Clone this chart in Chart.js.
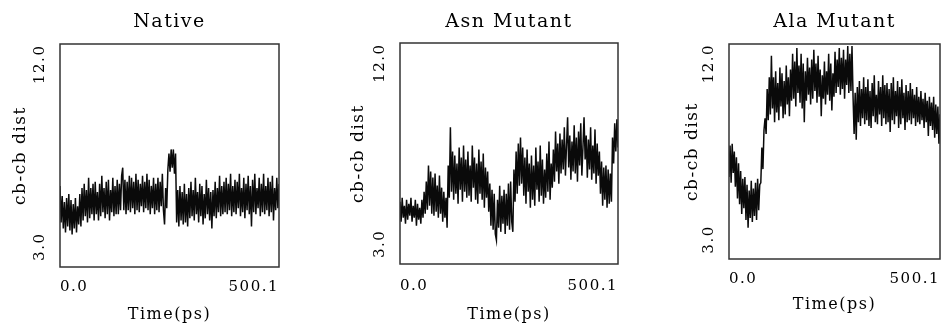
<!DOCTYPE html>
<html>
<head>
<meta charset="utf-8">
<script src="https://cdn.jsdelivr.net/npm/chart.js@4"></script>
<style>
  body { margin: 0; background: #fff; width: 943px; height: 326px; position: relative; overflow: hidden; }
  canvas { position: absolute; top: 0; }
</style>
</head>
<body>
<canvas id="native" width="300" height="326" style="left:0px"></canvas>
<canvas id="asn" width="300" height="326" style="left:340px"></canvas>
<canvas id="ala" width="274" height="326" style="left:669px"></canvas>
<script>
// cb-cb distance traces (one value every ~2.5 ps)
var nativeDist = [
  6.0, 4.2, 5.5, 3.9, 5.2, 3.7, 5.4, 4.0, 5.6, 3.8,
  5.3, 3.6, 5.1, 3.9, 5.4, 3.7, 5.0, 4.1, 5.6, 4.0,
  5.9, 4.3, 6.1, 4.5, 5.8, 4.2, 6.4, 4.4, 5.9, 4.6,
  6.1, 4.3, 6.2, 4.6, 5.7, 4.3, 6.1, 4.5, 6.5, 4.7,
  5.9, 4.4, 6.2, 4.6, 6.3, 4.3, 5.8, 4.7, 6.4, 4.5,
  6.0, 4.6, 6.3, 4.6, 6.1, 4.8, 6.5, 6.9, 4.8, 6.3,
  4.6, 6.2, 4.8, 6.5, 4.7, 6.4, 4.9, 6.2, 4.6, 6.6,
  4.8, 6.3, 4.7, 6.1, 5.0, 6.5, 4.7, 6.2, 4.9, 6.6,
  4.8, 6.3, 4.6, 6.0, 4.9, 6.4, 4.6, 6.1, 4.8, 6.4,
  4.7, 6.2, 5.0, 6.6, 4.8, 4.1, 5.9, 4.9, 6.8, 7.6,
  6.7, 7.8, 6.9, 7.8, 6.6, 7.6, 4.2, 5.8, 4.0, 6.0,
  4.3, 5.7, 4.1, 6.1, 4.2, 5.6, 4.0, 5.9, 4.4, 6.2,
  4.5, 5.8, 4.3, 6.4, 4.6, 5.7, 4.2, 6.1, 4.5, 6.0,
  4.1, 5.6, 4.4, 6.3, 4.6, 5.9, 4.3, 5.7, 3.9, 5.8,
  4.5, 6.2, 4.4, 5.9, 4.7, 6.5, 4.5, 6.0, 4.6, 6.2,
  4.7, 6.4, 4.6, 6.1, 4.8, 6.6, 4.5, 6.0, 4.7, 6.3,
  4.6, 6.2, 4.9, 6.6, 4.5, 5.9, 4.7, 6.4, 4.4, 6.1,
  4.8, 6.5, 4.6, 6.0, 4.0, 6.3, 4.7, 6.6, 4.6, 5.9,
  4.9, 6.4, 4.5, 6.1, 4.7, 6.6, 4.6, 6.0, 4.8, 6.4,
  4.5, 6.2, 4.7, 6.5, 4.3, 5.9, 4.8, 6.4, 4.9, 6.1
];
var asnDist = [
  5.1, 4.1, 5.3, 4.3, 4.9, 4.0, 5.2, 4.2, 5.0, 4.4,
  5.3, 4.1, 4.9, 4.3, 5.2, 3.9, 5.0, 4.2, 4.8, 4.0,
  5.2, 4.3, 5.6, 4.5, 6.1, 4.7, 6.9, 4.9, 6.6, 4.5,
  6.3, 4.4, 6.5, 4.6, 5.9, 4.3, 6.4, 4.5, 5.8, 4.1,
  5.6, 4.3, 5.3, 3.8, 6.9, 5.3, 8.8, 5.6, 7.6, 5.2,
  7.4, 5.5, 7.0, 5.0, 7.8, 5.7, 7.3, 5.1, 7.9, 5.6,
  7.2, 5.3, 7.6, 5.4, 6.9, 5.1, 7.9, 5.8, 7.3, 5.2,
  7.0, 5.0, 7.7, 5.5, 7.1, 5.2, 7.5, 4.8, 6.8, 5.3,
  6.6, 4.6, 6.0, 3.9, 5.7, 3.7, 5.5, 3.5, 3.2, 5.2,
  3.8, 5.9, 3.6, 5.4, 4.0, 5.7, 3.5, 5.5, 3.9, 6.0,
  3.7, 6.1, 4.1, 3.6, 6.7, 5.1, 7.6, 5.5, 8.0, 5.9,
  8.3, 6.0, 7.8, 5.4, 7.3, 5.0, 7.7, 5.6, 7.0, 4.8,
  7.4, 5.2, 6.9, 4.9, 7.8, 5.7, 7.1, 5.1, 7.9, 5.4,
  7.2, 5.0, 6.7, 5.3, 7.5, 5.6, 8.1, 5.2, 7.0, 5.8,
  7.7, 6.1, 8.6, 6.6, 8.0, 6.0, 8.5, 6.5, 8.2, 6.7,
  8.8, 6.4, 7.9, 9.3, 6.8, 8.4, 6.2, 8.1, 6.6, 8.9,
  6.5, 8.3, 6.1, 8.6, 6.9, 9.0, 6.4, 7.8, 9.3, 7.2,
  8.4, 6.3, 8.2, 6.7, 8.8, 6.2, 7.9, 6.5, 8.7, 6.0,
  8.0, 6.4, 7.6, 5.5, 7.1, 4.9, 6.8, 5.2, 6.9, 4.8,
  6.7, 5.0, 6.5, 5.1, 8.3, 7.0, 9.0, 7.6, 9.2, 7.8
];
var alaDist = [
  6.2, 7.8, 5.9, 7.9, 6.4, 7.5, 5.7, 7.2, 5.1, 6.9,
  4.8, 6.5, 4.3, 6.1, 4.6, 6.2, 4.0, 5.8, 3.6, 5.5,
  4.1, 6.0, 3.9, 5.6, 4.2, 5.9, 4.0, 6.1, 4.5, 5.8,
  5.9, 7.7, 6.6, 8.6, 9.2, 8.4, 10.7, 9.1, 11.3, 9.4,
  12.4, 9.7, 11.3, 9.0, 11.6, 9.5, 11.0, 9.1, 11.8, 9.8,
  11.5, 9.2, 11.1, 9.4, 11.9, 9.9, 11.3, 9.3, 11.7, 10.1,
  12.5, 10.2, 12.1, 9.8, 12.8, 10.5, 11.9, 10.0, 12.5, 9.7,
  12.0, 9.0, 11.6, 10.1, 12.3, 10.4, 11.8, 9.9, 12.2, 10.2,
  12.7, 10.6, 12.0, 10.0, 12.4, 10.3, 11.7, 9.3, 11.4, 10.2,
  12.1, 9.9, 11.6, 10.4, 12.5, 10.1, 12.0, 9.6, 11.5, 10.3,
  12.6, 10.5, 12.2, 10.8, 12.8, 10.4, 12.3, 10.7, 12.7, 10.2,
  12.2, 10.9, 12.9, 10.5, 12.5, 10.6, 12.9, 10.3, 8.4, 10.5,
  8.1, 10.8, 9.0, 11.1, 8.8, 10.7, 9.2, 11.3, 8.9, 10.8,
  9.1, 11.2, 8.8, 10.6, 8.7, 11.0, 9.3, 11.4, 9.0, 10.4,
  8.9, 11.1, 9.4, 10.8, 8.8, 11.4, 9.2, 10.9, 8.9, 11.0,
  9.0, 10.7, 8.5, 11.0, 9.1, 11.3, 8.9, 10.6, 9.3, 11.1,
  8.7, 10.8, 8.9, 11.2, 9.2, 10.5, 8.6, 10.9, 9.0, 10.6,
  9.1, 11.0, 8.9, 10.7, 9.2, 10.4, 8.8, 10.8, 9.0, 10.3,
  8.9, 10.6, 9.1, 10.2, 8.7, 10.5, 9.0, 10.1, 8.3, 10.3,
  8.8, 10.0, 8.6, 10.3, 8.2, 9.9, 8.4, 9.8, 7.9, 9.4
];
var titles = ['Native', 'Asn Mutant', 'Ala Mutant'];
var yTicks = [3.0, 12.0];
var xTicks = [0.0, 500.1];
var yMin = 2.0, yMax = 13.0;
var timeEnd = 500.1;

var serif = 'DejaVu Serif';
var ink = '#000';

// letter spacing to match the wide old plotter lettering
var spacing = {
  id: 'spacing',
  beforeUpdate: function(chart) { chart.ctx.letterSpacing = '1.5px'; },
  beforeDraw: function(chart) { chart.ctx.letterSpacing = '1.5px'; }
};

// closed box round the plot area
var frame = {
  id: 'frame',
  afterDatasetsDraw: function(chart) {
    var ctx = chart.ctx, a = chart.chartArea;
    ctx.save();
    ctx.strokeStyle = '#333';
    ctx.lineWidth = 1.5;
    ctx.strokeRect(a.left, a.top, a.right - a.left, a.bottom - a.top);
    ctx.restore();
  }
};

function makePanel(id, title, values, lay) {
  var pts = values.map(function(v, i) {
    return { x: i * timeEnd / (values.length - 1), y: v };
  });
  return new Chart(document.getElementById(id), {
    type: 'line',
    data: {
      datasets: [{
        data: pts,
        borderColor: '#0a0a0a',
        borderWidth: 1.5,
        pointRadius: 0,
        tension: 0
      }]
    },
    options: {
      responsive: false,
      animation: false,
      devicePixelRatio: 1,
      layout: { padding: { left: 0, right: lay.right, top: 0, bottom: 0 } },
      plugins: {
        legend: { display: false },
        tooltip: { enabled: false },
        title: {
          display: true,
          text: title,
          fullSize: false,
          color: ink,
          font: { family: serif, size: 19, weight: 'normal' },
          padding: { top: 10.6, bottom: lay.titleBottom }
        }
      },
      scales: {
        x: {
          type: 'linear',
          min: 0,
          max: timeEnd,
          grid: { display: false },
          border: { display: false },
          afterBuildTicks: function(axis) {
            axis.ticks = xTicks.map(function(v) { return { value: v }; });
          },
          afterFit: function(axis) { axis.height = lay.xHeight; },
          ticks: {
            align: 'inner',
            padding: lay.xTickPad,
            color: ink,
            font: { family: serif, size: 15 },
            maxRotation: 0,
            callback: function(v) { return Number(v).toFixed(1); }
          },
          title: {
            display: true,
            text: 'Time(ps)',
            color: ink,
            font: { family: serif, size: 16 },
            padding: { top: 0, bottom: lay.xTitleBottom }
          }
        },
        y: {
          min: yMin,
          max: yMax,
          grid: { display: false },
          border: { display: false },
          afterBuildTicks: function(axis) {
            axis.ticks = yTicks.map(function(v) { return { value: v }; });
          },
          afterFit: function(axis) { axis.width = 60; },
          ticks: {
            minRotation: 90,
            maxRotation: 90,
            crossAlign: 'center',
            padding: -8,
            color: ink,
            font: { family: serif, size: 15 },
            callback: function(v) { return Number(v).toFixed(1); }
          },
          title: {
            display: true,
            text: 'cb-cb dist',
            color: ink,
            font: { family: serif, size: 17 },
            padding: { top: lay.yTitleTop, bottom: 0 }
          }
        }
      }
    },
    plugins: [spacing, frame]
  });
}

makePanel('native', titles[0], nativeDist,
  { right: 21, titleBottom: 10.6, xHeight: 59, xTickPad: 3, xTitleBottom: 1.6, yTitleTop: 10 });
makePanel('asn', titles[1], asnDist,
  { right: 22, titleBottom: 9.6, xHeight: 62, xTickPad: 5, xTitleBottom: 1.6, yTitleTop: 8 });
makePanel('ala', titles[2], alaDist,
  { right: 1, titleBottom: 10.6, xHeight: 67, xTickPad: 3, xTitleBottom: 12, yTitleTop: 13 });
</script>
</body>
</html>
